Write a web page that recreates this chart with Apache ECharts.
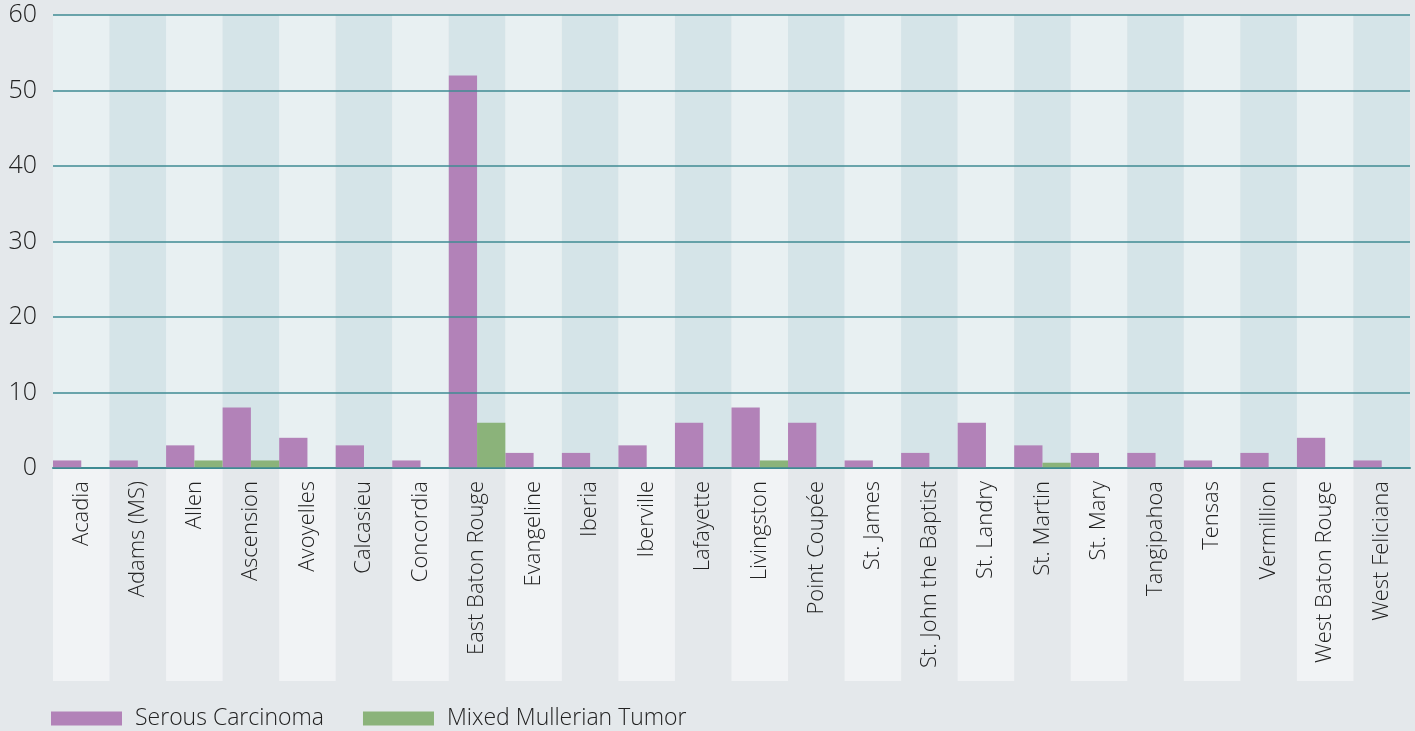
<!DOCTYPE html>
<html>
<head>
<meta charset="utf-8">
<script src="https://cdn.jsdelivr.net/npm/echarts@6/dist/echarts.min.js"></script>
<style>
  html, body { margin: 0; padding: 0; background: #e4e8eb; }
  #chart { width: 1415px; height: 731px; }
</style>
</head>
<body>
<div id="chart"></div>
<script>
// parishes along the x axis
const parishes = [
  'Acadia', 'Adams (MS)', 'Allen', 'Ascension', 'Avoyelles', 'Calcasieu',
  'Concordia', 'East Baton Rouge', 'Evangeline', 'Iberia', 'Iberville',
  'Lafayette', 'Livingston', 'Point Coupée', 'St. James', 'St. John the Baptist',
  'St. Landry', 'St. Martin', 'St. Mary', 'Tangipahoa', 'Tensas', 'Vermillion',
  'West Baton Rouge', 'West Feliciana'
];
const serousCarcinoma = [1, 1, 3, 8, 4, 3, 1, 52, 2, 2, 3, 6, 8, 6, 1, 2, 6, 3, 2, 2, 1, 2, 4, 1];
const mixedMullerian = [0, 0, 1, 1, 0, 0, 0, 6, 0, 0, 0, 0, 1, 0, 0, 0, 0, 0.7, 0, 0, 0, 0, 0, 0];
const yTicks = [0, 10, 20, 30, 40, 50, 60];

const chart = echarts.init(document.getElementById('chart'));
const font = "'Open Sans', 'Noto Sans', sans-serif";

chart.setOption({
  backgroundColor: '#e4e8eb',
  animation: false,
  grid: [
    { left: 53, right: 5, top: 15, bottom: 263 },
    { left: 53, right: 5, top: 469, height: 212 }
  ],
  legend: {
    data: ['Serous Carcinoma', 'Mixed Mullerian Tumor'],
    left: 46,
    top: 702,
    itemWidth: 71,
    itemHeight: 14,
    itemGap: 39,
    icon: 'rect',
    textStyle: { fontFamily: font, fontSize: 23, fontWeight: 300, color: '#222', padding: [0, 0, 0, 8] }
  },
  xAxis: [
    {
      type: 'category',
      data: parishes,
      gridIndex: 0,
      z: 0,
      axisLine: { show: true, lineStyle: { color: '#3f8b93', width: 2 } },
      axisTick: { show: false },
      axisLabel: {
        rotate: 90,
        interval: 0,
        margin: 13,
        fontFamily: font,
        fontSize: 22,
        fontWeight: 300,
        color: '#222'
      },
      splitArea: { show: true, interval: 0, areaStyle: { color: ['#e8f0f2', '#d5e4e8'] } }
    },
    {
      type: 'category',
      data: parishes,
      gridIndex: 1,
      z: -1,
      axisLine: { show: false },
      axisTick: { show: false, interval: 0 },
      axisLabel: { show: false, interval: 0 },
      splitArea: { show: true, interval: 0, areaStyle: { color: ['#f1f3f5', 'rgba(0,0,0,0)'] } }
    }
  ],
  yAxis: [
    {
      type: 'value',
      gridIndex: 0,
      min: 0,
      max: 60,
      interval: 10,
      z: 3,
      axisLine: { show: false },
      axisTick: { show: false },
      axisLabel: {
        margin: 16,
        fontFamily: font,
        fontSize: 25,
        fontWeight: 300,
        color: '#222',
        formatter: (v) => (yTicks.includes(v) ? String(v) : '')
      },
      splitLine: { lineStyle: { color: '#3f8b93', width: 1.5 } }
    },
    { type: 'value', gridIndex: 1, show: false, min: 0, max: 1 }
  ],
  series: [
    {
      name: 'Serous Carcinoma',
      type: 'bar',
      data: serousCarcinoma,
      barGap: '0%',
      barCategoryGap: '0%',
      itemStyle: { color: '#b282b8' }
    },
    {
      name: 'Mixed Mullerian Tumor',
      type: 'bar',
      data: mixedMullerian,
      barGap: '0%',
      barCategoryGap: '0%',
      itemStyle: { color: '#8bb37a' }
    },
    {
      name: 'bands',
      type: 'bar',
      xAxisIndex: 1,
      yAxisIndex: 1,
      data: [],
      silent: true
    }
  ]
});
</script>
</body>
</html>
